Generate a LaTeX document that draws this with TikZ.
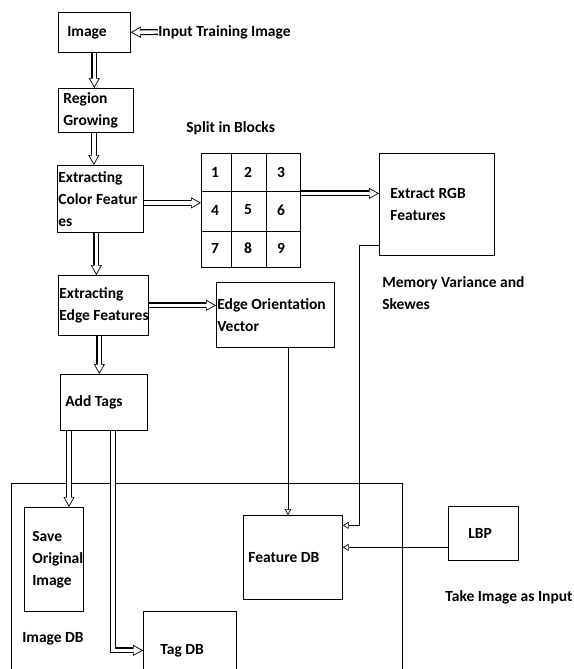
\documentclass[tikz,border=0pt]{standalone}
\usepackage{fontspec}
\setmainfont{Carlito}
\usetikzlibrary{arrows.meta, positioning, calc}

\tikzset{
  box/.style={draw, anchor=north west, align=flush left, inner ysep=2pt},
  hollow/.style={-{Triangle[open, length=10pt, width=11pt, fill=white]},
    postaction={draw, arrows=-, line width=6pt, shorten >=10pt},
    postaction={draw=white, arrows=-, line width=3.4pt, shorten >=9.4pt}},
  thinarrow/.style={-{Triangle[open, length=6pt, width=7pt]}},
}

\begin{document}
\begin{tikzpicture}[x=1pt, y=-1pt, line width=0.7pt,
  every node/.style={font=\fontsize{15.5}{22}\selectfont\bfseries}]
  \useasboundingbox (0,0) rectangle (573,669);
  % left column
  \node[box, minimum height=40pt, text width=54pt, inner xsep=9pt] (img) at (58,12) {Image};
  \node[anchor=west, inner sep=0pt] (inp) at (158,32) {Input Training Image};
  \node[box, minimum height=44pt, text width=65pt, inner xsep=5pt] (region) at (58,88) {Region\\Growing};
  \node[box, minimum height=67pt, text width=84pt, inner xsep=1pt] (extcol) at (57,165) {Extracting\\\mbox{Color Featur}\\es};
  \node[box, minimum height=60pt, text width=88pt, inner xsep=1pt] (extedge) at (58,275) {Extracting\\\mbox{Edge Features}};
  \node[box, minimum height=56pt, text width=77pt, inner xsep=5pt] (addtags) at (60,374) {Add Tags};
  % blocks
  \node[anchor=west, inner sep=0pt] (split) at (186,128) {Split in Blocks};
  \node[draw, anchor=north west, minimum width=99pt, minimum height=114pt, inner sep=0pt] (blocks) at (201,153) {};
  \draw (blocks.north west) ++(30,0) -- ++(0,114) ++(35,-114) -- ++(0,114);
  \draw (blocks.north west) ++(0,38) -- ++(99,0) ++(-99,40) -- ++(99,0);
  \foreach \r in {0,1,2}
    \foreach \c in {0,1,2}
      \pgfmathtruncatemacro{\n}{3*\r+\c+1}
      \node (b\n) at (215+33*\c, 172+38*\r) {\n};
  % right column
  \node[box, minimum height=102pt, text width=93pt, inner xsep=11pt] (rgb) at (379,153) {Extract RGB\\Features};
  \node[anchor=north west, align=flush left, inner sep=0pt] (memory) at (382,276) {Memory Variance and\\Skewes};
  \node[box, minimum height=65pt, text width=116pt, inner xsep=1pt] (eov) at (216,282) {Edge Orientation\\Vector};
  % databases
  \node[draw, anchor=north west, minimum width=391pt, minimum height=210pt] (imgdb) at (11,483) {};
  \node[anchor=west, inner sep=0pt] (imgdblabel) at (22,639) {Image DB};
  \node[box, minimum height=104pt, text width=43pt, inner xsep=8pt] (save) at (24,507) {Save\\\mbox{Original}\\Image};
  \node[box, minimum height=78pt, text width=59pt, inner xsep=17pt] (tagdb) at (143,611) {Tag DB};
  \node[box, minimum height=84pt, text width=89pt, inner xsep=5pt] (featdb) at (243,515) {Feature DB};
  \node[box, minimum height=54pt, text width=30pt, inner xsep=20pt] (lbp) at (448,506) {LBP};
  \node[anchor=west, inner sep=0pt] (take) at (445,597) {Take Image as Input};
  % arrows
  \draw[hollow] (inp.west) -- (img.east);
  \draw[hollow] (img.south) -- (img.south |- region.north);
  \draw[hollow] ([xshift=-2]region.south) -- ([xshift=-2]region.south |- extcol.north);
  \draw[hollow] ([yshift=-4]extcol.east) -- ([yshift=-4]extcol.east -| blocks.west);
  \draw[hollow] ([xshift=-4]extcol.south) -- ([xshift=-4]extcol.south |- extedge.north);
  \draw[hollow] ([yshift=17]blocks.east) -- ([yshift=17]blocks.east -| rgb.west);
  \draw[hollow] (extedge.east) -- (extedge.east -| eov.west);
  \draw[hollow] ([xshift=-4]extedge.south) -- ([xshift=-4]extedge.south |- addtags.north);
  \draw[hollow] ([xshift=9]addtags.south west) -- ([xshift=9]addtags.south west |- save.north);
  \draw[hollow] ([xshift=53]addtags.south west) |- (tagdb.west);
  \draw[thinarrow] ([xshift=72]eov.south west) -- ([xshift=72]eov.south west |- featdb.north);
  \draw[thinarrow] ([yshift=-41]rgb.west) -- ++(-20,0) |- ([yshift=32]featdb.east);
  \draw[thinarrow] ([yshift=-14]lbp.west) -- ([yshift=-14]lbp.west -| featdb.east);
\end{tikzpicture}
\end{document}
